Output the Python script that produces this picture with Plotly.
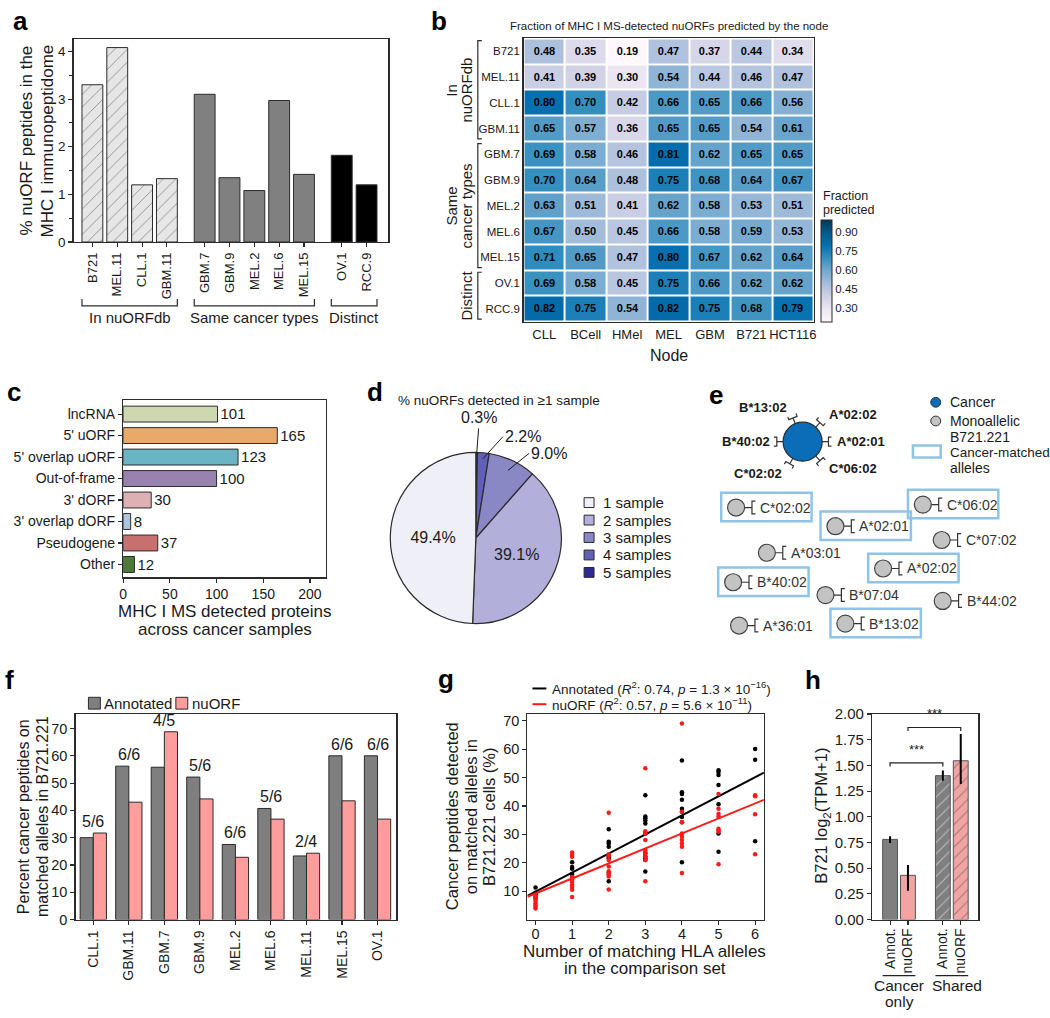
import numpy as np
import plotly.graph_objects as go

W, H = 1050, 1018
FONT = "Liberation Sans, Arial, Helvetica, sans-serif"
INK = "#1a1a1a"
LINE = "#2b2b2b"

# ======================= DATA =======================
# (a) % nuORF peptides in the MHC I immunopeptidome
a_samples = ["B721", "MEL.11", "CLL.1", "GBM.11", "GBM.7", "GBM.9", "MEL.2", "MEL.6", "MEL.15", "OV.1", "RCC.9"]
a_pct = [3.30, 4.08, 1.20, 1.33, 3.10, 1.35, 1.08, 2.97, 1.42, 1.82, 1.20]
a_groups = ["In nuORFdb"] * 4 + ["Same cancer types"] * 5 + ["Distinct"] * 2

# (b) fraction predicted by node
b_rows = ["B721", "MEL.11", "CLL.1", "GBM.11", "GBM.7", "GBM.9", "MEL.2", "MEL.6", "MEL.15", "OV.1", "RCC.9"]
b_row_groups = ["In|nuORFdb"] * 4 + ["Same|cancer types"] * 5 + ["Distinct"] * 2
b_nodes = ["CLL", "BCell", "HMel", "MEL", "GBM", "B721", "HCT116"]
b_fraction = [
    [0.48, 0.35, 0.19, 0.47, 0.37, 0.44, 0.34],
    [0.41, 0.39, 0.30, 0.54, 0.44, 0.46, 0.47],
    [0.80, 0.70, 0.42, 0.66, 0.65, 0.66, 0.56],
    [0.65, 0.57, 0.36, 0.65, 0.65, 0.54, 0.61],
    [0.69, 0.58, 0.46, 0.81, 0.62, 0.65, 0.65],
    [0.70, 0.64, 0.48, 0.75, 0.68, 0.64, 0.67],
    [0.63, 0.51, 0.41, 0.62, 0.58, 0.53, 0.51],
    [0.67, 0.50, 0.45, 0.66, 0.58, 0.59, 0.53],
    [0.71, 0.65, 0.47, 0.80, 0.67, 0.62, 0.64],
    [0.69, 0.58, 0.45, 0.75, 0.66, 0.62, 0.62],
    [0.82, 0.75, 0.54, 0.82, 0.75, 0.68, 0.79],
]
b_colorbar_ticks = [0.30, 0.45, 0.60, 0.75, 0.90]

# (c) nuORF types detected
c_types = ["lncRNA", "5' uORF", "5' overlap uORF", "Out-of-frame", "3' dORF", "3' overlap dORF", "Pseudogene", "Other"]
c_counts = [101, 165, 123, 100, 30, 8, 37, 12]

# (d) % nuORFs detected in >=1 sample
d_labels = ["1 sample", "2 samples", "3 samples", "4 samples", "5 samples"]
d_pct = [49.4, 39.1, 9.0, 2.2, 0.3]

# (e) HLA alleles
e_cancer_alleles = ["A*02:01", "A*02:02", "B*13:02", "B*40:02", "C*02:02", "C*06:02"]
e_mono_alleles = ["C*02:02", "A*02:01", "C*06:02", "C*07:02", "A*03:01", "A*02:02",
                  "B*40:02", "B*07:04", "B*44:02", "A*36:01", "B*13:02"]

# (f) percent cancer peptides on matched alleles
f_samples = ["CLL.1", "GBM.11", "GBM.7", "GBM.9", "MEL.2", "MEL.6", "MEL.11", "MEL.15", "OV.1"]
f_annot = [30.0, 56.2, 55.8, 52.2, 27.5, 40.7, 23.3, 60.0, 60.0]
f_nuorf = [31.7, 43.0, 68.8, 44.2, 22.8, 36.8, 24.3, 43.5, 36.8]
f_matched = ["5/6", "6/6", "4/5", "5/6", "6/6", "5/6", "2/4", "6/6", "6/6"]

# (g) peptides vs number of matching alleles
g_matching = [0, 1, 2, 3, 4, 5, 6]
g_annot = [
    [11.3, 9.4, 8.8, 8.0, 7.3],
    [20.2, 18.5, 17.9, 16.0, 15.2, 14.6],
    [31.8, 27.4, 26.8, 25.6, 22.2, 21.6, 16.4, 13.5],
    [43.8, 36.3, 35.7, 34.9, 33.8, 30.3, 23.3, 22.2, 21.6, 21.0, 16.9],
    [56.0, 44.8, 44.2, 42.2, 39.0, 38.0, 36.1, 34.3, 20.2],
    [52.6, 52.0, 50.9, 47.4, 40.6, 30.3, 23.9],
    [60.1, 56.3, 27.6],
]
g_nuorf = [
    [8.4, 7.3, 6.5, 5.7, 5.0, 4.4, 3.9],
    [23.6, 22.7, 22.1, 15.0, 14.0, 13.2, 12.3, 11.5, 10.5, 7.9],
    [37.6, 23.0, 22.5, 21.0, 18.7, 17.0, 16.4, 15.8, 15.2, 10.6],
    [53.3, 31.1, 30.3, 28.0, 24.5, 23.9, 23.3, 22.2, 21.0, 13.5],
    [69.1, 38.0, 34.3, 30.3, 29.2, 28.0, 26.8, 25.6, 16.4],
    [44.2, 39.0, 37.2, 36.3, 32.0, 31.5, 30.9, 19.5],
    [43.8, 43.4, 37.1, 23.0],
]
g_stats = [("Annotated", "0.74", "1.3", "16"), ("nuORF", "0.57", "5.6", "11")]

# (h) B721 expression
h_labels = ["Annot.", "nuORF", "Annot.", "nuORF"]
h_sets = ["Cancer only", "Cancer only", "Shared", "Shared"]
h_tpm = [0.78, 0.43, 1.40, 1.545]
h_err_plus = [0.03, 0.10, 0.05, 0.26]
h_err_minus = [0.035, 0.15, 0.05, 0.225]
h_sig = ["***", "***"]

# ======================= HELPERS =======================
annotations, shapes = [], []


def fx(p):
    return p / W


def fy(p):
    return 1 - p / H


def txt(x, y, s, size=14, xanchor="center", yanchor="middle", xref="paper", yref="paper",
        color=INK, angle=0, bold=False, xshift=0):
    if xref == "paper":
        x = fx(x)
    if yref == "paper":
        y = fy(y)
    annotations.append(dict(x=x, y=y, xref=xref, yref=yref, text=f"<b>{s}</b>" if bold else s,
                            showarrow=False, xanchor=xanchor, yanchor=yanchor, textangle=angle,
                            xshift=xshift, font=dict(family=FONT, size=size, color=color)))


def path_shape(pts, xref="paper", yref="paper", color=LINE, width=1.2):
    conv = [(fx(x) if xref == "paper" else x, fy(y) if yref == "paper" else y) for x, y in pts]
    d = "M " + " L ".join(f"{x},{y}" for x, y in conv)
    shapes.append(dict(type="path", path=d, xref=xref, yref=yref, line=dict(color=color, width=width)))


def axis(**kw):
    d = dict(showline=True, linecolor=LINE, linewidth=1.3, mirror=True, ticks="outside", ticklen=4,
             tickwidth=1.1, tickcolor=LINE, showgrid=False, zeroline=False,
             tickfont=dict(family=FONT, size=14, color=INK), fixedrange=True)
    d.update(kw)
    return d


fig = go.Figure()
layout_axes = {}

# ======================= (a) =======================
A_GAP, A_W = 0.52, 0.84
a_pos, p, prev = [], 0.0, None
for g in a_groups:
    if prev is not None and g != prev:
        p += A_GAP
    a_pos.append(p)
    p += 1
    prev = g
a_style = {"In nuORFdb": ("#e6e6e6", "/"), "Same cancer types": ("#808080", ""), "Distinct": ("#000000", "")}
for g in dict.fromkeys(a_groups):
    idx = [i for i, gg in enumerate(a_groups) if gg == g]
    col, pat = a_style[g]
    fig.add_trace(go.Bar(x=[a_pos[i] for i in idx], y=[a_pct[i] for i in idx], width=A_W, offsetgroup="a",
                         marker=dict(color=col, line=dict(color=LINE, width=1),
                                     pattern=dict(shape=pat, fillmode="overlay", fgcolor="#3a3a3a",
                                                  size=9, solidity=0.1)),
                         xaxis="x", yaxis="y", hoverinfo="skip"))
    x0, x1 = a_pos[idx[0]] - A_W / 2, a_pos[idx[-1]] + A_W / 2
    path_shape([(x0, 295), (x0, 302), (x1, 302), (x1, 295)], xref="x")
    txt((x0 + x1) / 2, 314, g, size=15, xref="x")
layout_axes["xaxis"] = axis(domain=[fx(70), fx(387)], range=[-0.76, 11.92], tickmode="array",
                            tickvals=a_pos, ticktext=a_samples, tickangle=-90, anchor="y",
                            tickfont=dict(family=FONT, size=13, color=INK))
layout_axes["yaxis"] = axis(domain=[fy(237), fy(31)], range=[0, 4.25], tickmode="linear", tick0=0, dtick=1,
                            anchor="x", minor=dict(dtick=0.5, ticks="outside", ticklen=3, tickcolor=LINE),
                            tickfont=dict(family=FONT, size=13.5, color=INK))
txt(23, 134, "% nuORF peptides in the", size=17, angle=-90)
txt(44, 134, "MHC I immunopeptidome", size=17, angle=-90)

# ======================= (b) =======================
fig.add_trace(go.Heatmap(z=b_fraction, x=list(range(len(b_nodes))), y=list(range(len(b_rows))),
                         colorscale="PuBu", zmin=0.19, zmax=1.0, xgap=2, ygap=2,
                         texttemplate="<b>%{z:.2f}</b>",
                         textfont=dict(family=FONT, size=11, color="black"),
                         colorbar=dict(x=fx(822), xanchor="left", y=fy(266), yanchor="middle",
                                       lenmode="pixels", len=102, thickness=11, xpad=0, ypad=0,
                                       outlinewidth=1, outlinecolor=LINE, tickvals=b_colorbar_ticks,
                                       tickformat=".2f", ticks="",
                                       tickfont=dict(family=FONT, size=11.5, color=INK)),
                         xaxis="x2", yaxis="y2", hoverinfo="skip"))
txt(822, 190, "Fraction", size=12.5, xanchor="left")
txt(822, 204, "predicted", size=12.5, xanchor="left")
layout_axes["xaxis2"] = axis(domain=[fx(523), fx(815)], range=[-0.5, len(b_nodes) - 0.5], tickmode="array",
                             tickvals=list(range(len(b_nodes))), ticktext=b_nodes, ticks="", anchor="y2",
                             tickangle=0, tickfont=dict(family=FONT, size=13, color=INK))
layout_axes["yaxis2"] = axis(domain=[fy(318), fy(30)], range=[len(b_rows) - 0.5, -0.5], tickmode="array",
                             tickvals=list(range(len(b_rows))), ticktext=b_rows, ticks="", anchor="x2",
                             tickangle=0, tickfont=dict(family=FONT, size=11.5, color=INK))
txt(669, 17, "Fraction of MHC I MS-detected nuORFs predicted by the node", size=11.5)
txt(669, 352, "Node", size=16)
for g in dict.fromkeys(b_row_groups):
    idx = [i for i, gg in enumerate(b_row_groups) if gg == g]
    y0, y1 = idx[0] - 0.42, idx[-1] + 0.4
    path_shape([(481, y0), (477, y0), (477, y1), (481, y1)], yref="y2")
    lines = g.split("|")
    yc = (y0 + y1) / 2
    if len(lines) == 2:
        txt(451, yc, lines[0], size=15, angle=-90, yref="y2")
        txt(466, yc, lines[1], size=15, angle=-90, yref="y2")
    else:
        txt(466, yc, lines[0], size=15, angle=-90, yref="y2")

# ======================= (c) =======================
c_colors = ["#cdd8b1", "#e8a96b", "#6ab5c4", "#9883b0", "#ddb0b3", "#aec5e1", "#c8706f", "#4d7a38"]
fig.add_trace(go.Bar(x=c_counts, y=c_types, orientation="h", width=0.74,
                     marker=dict(color=c_colors, line=dict(color=LINE, width=1)),
                     text=[str(v) for v in c_counts], textposition="outside", cliponaxis=False,
                     textfont=dict(family=FONT, size=16, color=INK),
                     xaxis="x3", yaxis="y3", hoverinfo="skip"))
layout_axes["xaxis3"] = axis(domain=[fx(120), fx(324)], range=[0, 217], tickmode="linear", tick0=0, dtick=50,
                             anchor="y3")
layout_axes["yaxis3"] = axis(domain=[fy(578), fy(398)], type="category", categoryorder="array",
                             categoryarray=c_types, range=[7.6, -0.64], anchor="x3")
txt(222, 613, "MHC I MS detected proteins", size=17)
txt(222, 631, "across cancer samples", size=17)

# ======================= (d) =======================
d_colors = ["#efeff7", "#b2b0db", "#8a87c5", "#625fb6", "#2c2a8e"]
PIE_CX, PIE_CY, PIE_R = 475, 538, 87
# drawn clockwise from 12 o'clock, starting with the group seen in most samples
pie_order = list(range(len(d_pct)))[::-1]
fig.add_trace(go.Pie(labels=[d_labels[i] for i in pie_order], values=[d_pct[i] for i in pie_order],
                     sort=False, direction="clockwise", rotation=0,
                     marker=dict(colors=[d_colors[i] for i in pie_order], line=dict(color=LINE, width=1.2)),
                     text=[f"{d_pct[i]:.1f}%" if d_pct[i] > 20 else " " for i in pie_order],
                     textinfo="text", textposition="inside", insidetextorientation="horizontal",
                     textfont=dict(family=FONT, size=16, color=INK),
                     domain=dict(x=[fx(PIE_CX - PIE_R), fx(PIE_CX + PIE_R)],
                                 y=[fy(PIE_CY + PIE_R), fy(PIE_CY - PIE_R)]),
                     showlegend=False, hoverinfo="skip"))
vals = [d_pct[i] for i in pie_order]
cum = np.concatenate([[0], np.cumsum(vals)]) / sum(vals) * 360
mid_cw = {pie_order[j]: (cum[j] + cum[j + 1]) / 2 for j in range(len(vals))}
d_small = {2: (76, 21, -17, "left"), 3: (81, 20, -22, "left"), 4: (85, 2, -26, "center")}
for i, (rin, ax, ay, xa) in d_small.items():
    t = np.radians(90 - mid_cw[i])
    hx = PIE_CX + rin * np.cos(t)
    hy = PIE_CY - rin * np.sin(t)
    annotations.append(dict(x=fx(hx), y=fy(hy), xref="paper", yref="paper", text=f"{d_pct[i]:.1f}%",
                            showarrow=True, arrowhead=0, arrowwidth=1, arrowcolor=INK, ax=ax, ay=ay,
                            xanchor=xa, yanchor="middle" if xa == "left" else "bottom", standoff=0,
                            font=dict(family=FONT, size=16, color=INK)))
txt(395, 398, "% nuORFs detected in ≥1 sample", size=13.5, xanchor="left")
for i, lab in enumerate(d_labels):
    yy = 502 + i * 17.75
    shapes.append(dict(type="rect", xref="paper", yref="paper", x0=fx(584), x1=fx(594), y0=fy(yy + 5),
                       y1=fy(yy - 5), fillcolor=d_colors[i], line=dict(color=LINE, width=1)))
    txt(601, yy, lab, size=15, xanchor="left")

# ======================= (e) =======================
layout_axes["xaxis4"] = dict(domain=[fx(680), 1.0], range=[680, 1050], visible=False, fixedrange=True)
layout_axes["yaxis4"] = dict(domain=[fy(670), fy(380)], range=[670, 380], visible=False, fixedrange=True)
E_BLUE, E_GREY, E_BOX = "#0b6db7", "#c3c3c3", "#8fc4e8"
E_CX, E_CY = 804, 440
e_angles = [0, 48, 112, 180, 240, 312]
bx, by = [], []
for name, ang in zip(e_cancer_alleles, e_angles):
    t = np.radians(ang)
    ux, uy = np.cos(t), -np.sin(t)
    px_, py_ = -uy, ux
    r0, r1, r2 = 19.5, 26, 29
    bx += [E_CX + r0 * ux, E_CX + r1 * ux, None]
    by += [E_CY + r0 * uy, E_CY + r1 * uy, None]
    bx += [E_CX + r2 * ux + 4.5 * px_, E_CX + r1 * ux + 4.5 * px_, E_CX + r1 * ux - 4.5 * px_,
           E_CX + r2 * ux - 4.5 * px_, None]
    by += [E_CY + r2 * uy + 4.5 * py_, E_CY + r1 * uy + 4.5 * py_, E_CY + r1 * uy - 4.5 * py_,
           E_CY + r2 * uy - 4.5 * py_, None]
    R = 37
    lx, ly = E_CX + R * ux, E_CY + R * uy
    xa = "left" if ux > 0.1 else ("right" if ux < -0.1 else "center")
    if abs(ux) > 0.95:
        lx = E_CX + (33 if ux > 0 else -31)
    txt(lx, ly, name, size=13, xanchor=xa, xref="x4", yref="y4", bold=True)
e_mono_xy = [(737, 507), (837, 526), (925, 504), (944, 540), (768, 553), (885, 569),
             (734, 583), (827, 596), (945, 602), (740, 627), (847, 625)]
for name, (cx, cy) in zip(e_mono_alleles, e_mono_xy):
    bx += [cx + 8.5, cx + 16, None, cx + 19.5, cx + 16, cx + 16, cx + 19.5, None]
    by += [cy, cy, None, cy - 6.5, cy - 6.5, cy + 6.5, cy + 6.5, None]
    txt(cx + 22, cy, name, size=14, xanchor="left", xref="x4", yref="y4", color="#333333")
    if name in e_cancer_alleles:
        shapes.append(dict(type="rect", xref="x4", yref="y4", x0=cx - 15, x1=cx + 76, y0=cy - 15,
                           y1=cy + 14, line=dict(color=E_BOX, width=2.5)))
fig.add_trace(go.Scatter(x=bx, y=by, mode="lines", line=dict(color="#333333", width=1.2),
                         xaxis="x4", yaxis="y4", hoverinfo="skip"))
fig.add_trace(go.Scatter(x=[E_CX], y=[E_CY], mode="markers",
                         marker=dict(size=39, color=E_BLUE, line=dict(color=LINE, width=1.2)),
                         xaxis="x4", yaxis="y4", hoverinfo="skip"))
fig.add_trace(go.Scatter(x=[c[0] for c in e_mono_xy], y=[c[1] for c in e_mono_xy], mode="markers",
                         marker=dict(size=17, color=E_GREY, line=dict(color="#444444", width=1.2)),
                         xaxis="x4", yaxis="y4", hoverinfo="skip"))
for yy, col in [(400, E_BLUE), (419, E_GREY)]:
    shapes.append(dict(type="circle", xref="x4", yref="y4", x0=933, x1=943, y0=yy - 5, y1=yy + 5,
                       fillcolor=col, line=dict(color="#333333", width=1)))
shapes.append(dict(type="rect", xref="x4", yref="y4", x0=915, x1=943, y0=444, y1=456,
                   line=dict(color=E_BOX, width=2.5)))
txt(950, 400, "Cancer", size=14, xanchor="left", xref="x4", yref="y4")
txt(950, 419, "Monoallelic", size=14, xanchor="left", xref="x4", yref="y4")
txt(950, 435, "B721.221", size=14, xanchor="left", xref="x4", yref="y4")
txt(950, 451, "Cancer-matched", size=13.5, xanchor="left", xref="x4", yref="y4")
txt(950, 467, "alleles", size=14, xanchor="left", xref="x4", yref="y4")

# ======================= (f) =======================
F_GREY, F_PINK = "#7f7f7f", "#ff9c9c"
fig.add_trace(go.Bar(x=f_samples, y=f_annot, marker=dict(color=F_GREY, line=dict(color=LINE, width=1)),
                     offsetgroup="f1", xaxis="x5", yaxis="y5", hoverinfo="skip"))
fig.add_trace(go.Bar(x=f_samples, y=f_nuorf, marker=dict(color=F_PINK, line=dict(color=LINE, width=1)),
                     offsetgroup="f2", xaxis="x5", yaxis="y5", hoverinfo="skip"))
for s, a_, n_, lab in zip(f_samples, f_annot, f_nuorf, f_matched):
    annotations.append(dict(x=s, y=max(a_, n_), xref="x5", yref="y5", text=lab, showarrow=False,
                            yanchor="bottom", yshift=1, font=dict(family=FONT, size=16, color=INK)))
layout_axes["xaxis5"] = axis(domain=[fx(72), fx(395)], type="category", categoryorder="array",
                             categoryarray=f_samples, range=[-0.5, 8.53], tickangle=-90, anchor="y5")
layout_axes["yaxis5"] = axis(domain=[fy(926), fy(717)], range=[0, 75.3], tickmode="linear", tick0=0, dtick=10,
                             anchor="x5", tickfont=dict(family=FONT, size=14.5, color=INK))
txt(19, 821, "Percent cancer peptides on", size=16, angle=-90)
txt(39, 821, "matched alleles in B721.221", size=16, angle=-90)
for (x0, col, lab) in [(85, F_GREY, "Annotated"), (173, F_PINK, "nuORF")]:
    shapes.append(dict(type="rect", xref="paper", yref="paper", x0=fx(x0), x1=fx(x0 + 12), y0=fy(712),
                       y1=fy(700), fillcolor=col, line=dict(color=LINE, width=1)))
    txt(x0 + 14, 706, lab, size=15, xanchor="left")

# ======================= (g) =======================
G_COLORS = ["#000000", "#ff1a1a"]
layout_axes["xaxis6"] = axis(domain=[fx(527), fx(765)], range=[-0.22, 6.24], tickmode="array",
                             tickvals=g_matching, anchor="y6", ticklabelstandoff=-3,
                             tickfont=dict(family=FONT, size=14.5, color=INK))
layout_axes["yaxis6"] = axis(domain=[fy(926), fy(717)], range=[0, 72.4], tickmode="array",
                             tickvals=[10, 20, 30, 40, 50, 60, 70], anchor="x6",
                             tickfont=dict(family=FONT, size=14.5, color=INK))
for series, col in zip([g_annot, g_nuorf], G_COLORS):
    xs = [m for m, vals_ in zip(g_matching, series) for _ in vals_]
    ys = [v for vals_ in series for v in vals_]
    slope, icpt = np.polyfit(xs, ys, 1)
    xl = np.array([-0.22, 6.24])
    fig.add_trace(go.Scatter(x=xl, y=icpt + slope * xl, mode="lines", line=dict(color=col, width=2),
                             xaxis="x6", yaxis="y6", hoverinfo="skip"))
    fig.add_trace(go.Scatter(x=xs, y=ys, mode="markers", marker=dict(color=col, size=4.5),
                             xaxis="x6", yaxis="y6", hoverinfo="skip"))
for k, ((name, r2, pm, pe), col) in enumerate(zip(g_stats, G_COLORS)):
    yy = 691 + k * 16
    shapes.append(dict(type="line", xref="paper", yref="paper", x0=fx(532), x1=fx(546), y0=fy(yy), y1=fy(yy),
                       line=dict(color=col, width=2)))
    txt(550, yy, f"{name} (<i>R</i><sup>2</sup>: {r2}, <i>p</i> = {pm} × 10<sup>−{pe}</sup>)",
        size=13.5, xanchor="left")
txt(451, 821, "Cancer peptides detected", size=16.5, angle=-90)
txt(470, 821, "on matched alleles in", size=16.5, angle=-90)
txt(489, 821, "B721.221 cells (%)", size=16.5, angle=-90)
txt(645, 958, "Number of matching HLA alleles", size=17)
txt(645, 976, "in the comparison set", size=17)

# ======================= (h) =======================
h_pos = [0, 1, 2.95, 3.95]
H_W = 0.83
h_colors = ["#7f7f7f" if l == "Annot." else "#f4a3a3" for l in h_labels]
h_pattern = ["" if s == "Cancer only" else "/" for s in h_sets]
fig.add_trace(go.Bar(x=h_pos, y=h_tpm, width=H_W, offsetgroup="h",
                     marker=dict(color=h_colors, line=dict(color="#555555", width=1),
                                 pattern=dict(shape=h_pattern, fillmode="overlay", fgcolor="#333333",
                                              size=8, solidity=0.12)),
                     error_y=dict(type="data", symmetric=False, array=h_err_plus, arrayminus=h_err_minus,
                                  color="#000000", thickness=2, width=0),
                     xaxis="x7", yaxis="y7", hoverinfo="skip"))
layout_axes["xaxis7"] = axis(domain=[fx(874), fx(981)], range=[-1.0, 4.94], tickmode="array", tickvals=h_pos,
                             ticktext=h_labels, tickangle=-90, anchor="y7", ticklabelstandoff=-2,
                             tickfont=dict(family=FONT, size=14, color=INK))
layout_axes["yaxis7"] = axis(domain=[fy(926), fy(717)], range=[0, 2.0], tickmode="linear", tick0=0, dtick=0.25,
                             tickformat=".2f", anchor="x7", tickfont=dict(family=FONT, size=15, color=INK))
for k, (i0, i1) in enumerate([(0, 2), (1, 3)]):
    ybr = 1.525 if k == 0 else 1.869
    path_shape([(h_pos[i0], ybr - 0.035), (h_pos[i0], ybr), (h_pos[i1], ybr), (h_pos[i1], ybr - 0.035)],
               xref="x7", yref="y7", color="#222222", width=1.2)
    txt((h_pos[i0] + h_pos[i1]) / 2, ybr + 0.04, h_sig[k], size=13, xref="x7", yref="y7",
        yanchor="bottom")
for s in dict.fromkeys(h_sets):
    idx = [i for i, ss in enumerate(h_sets) if ss == s]
    x0, x1 = h_pos[idx[0]] - H_W / 2, h_pos[idx[-1]] + H_W / 2
    path_shape([(x0, 983), (x1, 983)], xref="x7", color="#222222", width=1.2)
    parts = s.split(" ")
    shift = 5 if len(parts) == 1 else 0
    for j, part in enumerate(parts):
        txt((x0 + x1) / 2, 993 + 16 * j, part, size=15.5, xref="x7", xshift=shift)
txt(824, 821, "B721 log<sub>2</sub>(TPM+1)", size=16.5, angle=-90)

# ======================= panel letters =======================
for lab, x, y in [("a", 17, 12), ("b", 438, 12), ("c", 10, 389), ("d", 373, 389), ("e", 717, 393),
                  ("f", 6, 682), ("g", 445, 681), ("h", 814, 682)]:
    txt(x, y, lab, size=26, bold=True, color="#000000")

fig.update_layout(width=W, height=H, margin=dict(l=0, r=0, t=0, b=0), paper_bgcolor="white",
                  plot_bgcolor="white", showlegend=False, barmode="group", bargap=0.26, bargroupgap=0,
                  font=dict(family=FONT, color=INK), annotations=annotations, shapes=shapes,
                  hovermode=False, **layout_axes)
fig.write_html("out.html", config={"displayModeBar": False, "staticPlot": True},
               post_script="document.body.style.margin='0px';document.body.style.padding='0px';"
                           "document.body.style.overflow='hidden';")
